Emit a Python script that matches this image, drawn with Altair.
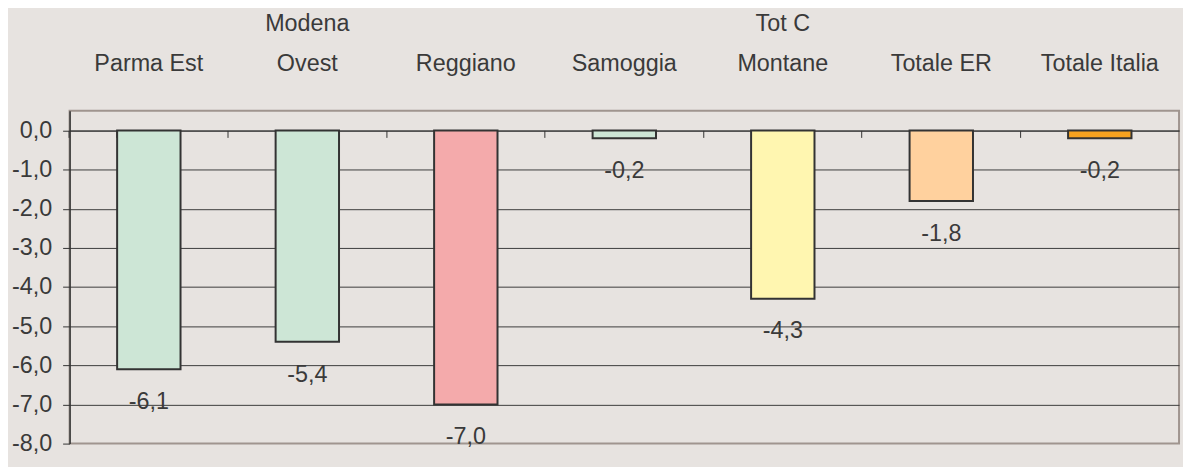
import altair as alt
import pandas as pd

categories = ["Parma Est", "Modena\nOvest", "Reggiano", "Samoggia", "Tot C\nMontane", "Totale ER", "Totale Italia"]
values = [-6.1, -5.4, -7.0, -0.2, -4.3, -1.8, -0.2]
colors = ["#cde6d6", "#cde6d6", "#f4aaab", "#cde6d6", "#fff6b0", "#ffd19e", "#f6a21f"]
labels = [f"{v:.1f}".replace(".", ",") for v in values]
y_ticks = [0, -1, -2, -3, -4, -5, -6, -7, -8]

df = pd.DataFrame({"cat": categories, "value": values, "color": colors, "label": labels})

FONT = "Liberation Sans, Arial, sans-serif"
FS = 23.5
TXT = "#3a3a3a"
DARK = "#333333"
W, H = 1117, 335
YDOM = [-8, 0.5]
zero_offset = -(H - H * (YDOM[1] - 0) / (YDOM[1] - YDOM[0]))

xscale = alt.Scale(paddingInner=0.6, paddingOuter=0.3)
yscale = alt.Scale(domain=YDOM, nice=False, zero=False)

ylabel = "(datum.value < 0 ? '-' : '') + replace(format(abs(datum.value), '.1f'), '.', ',')"
xlabel = ("length(split(datum.label, '\\n')) > 1 ? split(datum.label, '\\n') : ['', datum.label]")

yaxis = alt.Axis(values=y_ticks, title=None, labelExpr=ylabel, grid=True,
                 gridColor={"condition": {"test": "datum.value === -8", "value": "transparent"},
                            "value": "#3c3c3c"},
                 gridWidth=1, tickSize=7, tickColor=DARK, domainColor=DARK, domainWidth=1.5,
                 labelFont=FONT, labelFontSize=FS, labelColor=TXT, labelPadding=11)

bars = alt.Chart(df).mark_bar(stroke=DARK, strokeWidth=2).encode(
    x=alt.X("cat:N", sort=categories, scale=xscale,
            axis=alt.Axis(orient="top", title=None, labelExpr=xlabel,
                          labelAngle=0, ticks=False, tickSize=0, domain=False, grid=False,
                          labelFont=FONT, labelFontSize=FS, labelColor=TXT,
                          labelLineHeight=40, labelPadding=76, labelBaseline="bottom")),
    y=alt.Y("value:Q", scale=yscale, axis=yaxis),
    color=alt.Color("color:N", scale=None),
)

text = alt.Chart(df).mark_text(baseline="middle", dy=33, font=FONT, fontSize=FS, color=TXT).encode(
    x=alt.X("cat:N", sort=categories, scale=xscale,
            axis=alt.Axis(orient="bottom", offset=zero_offset, labels=False, title=None,
                          domain=True, domainColor=DARK, domainWidth=1, ticks=True, tickSize=7,
                          tickColor=DARK, bandPosition=-0.75, tickExtra=True, grid=False)),
    y=alt.Y("value:Q", scale=yscale, axis=yaxis),
    text="label:N",
)

chart = alt.layer(bars, text).resolve_axis(x="independent").properties(
    width=W, height=H,
    autosize=alt.AutoSizeParams(type="none"),
    padding={"left": 62, "top": 102, "right": 4, "bottom": 22},
    background="#e7e3e0",
).configure_view(stroke="#a0958f", strokeWidth=2)

chart.save("out.html", embed_options={"renderer": "svg", "actions": False})
